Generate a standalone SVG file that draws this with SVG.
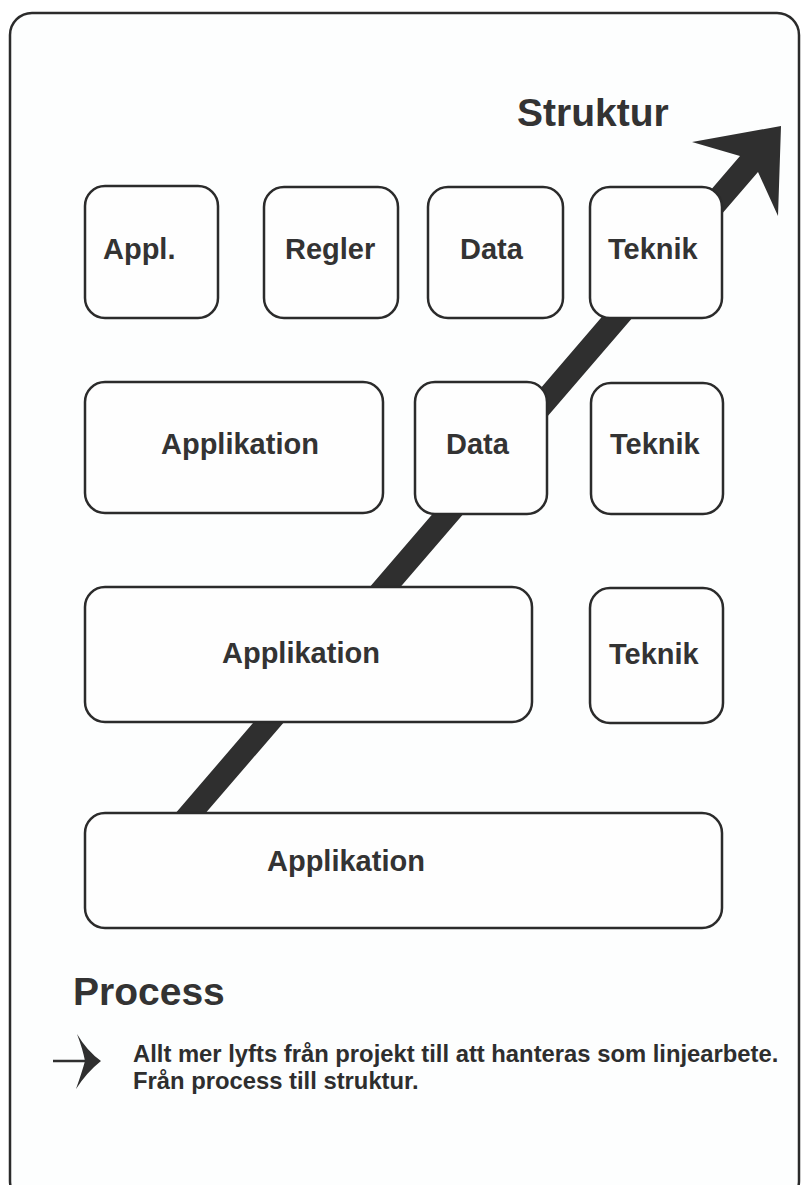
<svg xmlns="http://www.w3.org/2000/svg" width="801" height="1185" viewBox="0 0 801 1185">
<style>
.frame{fill:#fdfefe;stroke:#2b2b2b;stroke-width:2.5}
.box{fill:#fefefe;stroke:#2b2b2b;stroke-width:2.5}
.lbl{font-family:"Liberation Sans",Arial,sans-serif;font-weight:bold;font-size:29px;fill:#333}
.title{font-family:"Liberation Sans",Arial,sans-serif;font-weight:bold;font-size:39px;fill:#333}
.body{font-family:"Liberation Sans",Arial,sans-serif;font-weight:bold;font-size:23.8px;fill:#2e2e2e}
.ink{fill:#2f2f2f}
</style>
<rect width="801" height="1185" fill="#ffffff"/>
<rect class="frame" x="10" y="13" width="789" height="1190" rx="22"/>

<g id="connectors">
<polygon class="ink" points="168,822 740,156 692,142 781,126 778,216 758,172 185,837"/>
</g>

<g id="n-appl"><rect class="box" x="85" y="186" width="133" height="132" rx="20"/><text class="lbl" x="103" y="259">Appl.</text></g>
<g id="n-regler"><rect class="box" x="264" y="187" width="134" height="131" rx="20"/><text class="lbl" x="285" y="259">Regler</text></g>
<g id="n-data1"><rect class="box" x="428" y="187" width="135" height="131" rx="20"/><text class="lbl" x="460" y="259">Data</text></g>
<g id="n-teknik1"><rect class="box" x="590" y="187" width="132" height="131" rx="20"/><text class="lbl" x="608" y="259">Teknik</text></g>

<g id="n-applikation2"><rect class="box" x="85" y="382" width="298" height="131" rx="20"/><text class="lbl" x="161" y="454">Applikation</text></g>
<g id="n-data2"><rect class="box" x="415" y="382" width="132" height="132" rx="20"/><text class="lbl" x="446" y="454">Data</text></g>
<g id="n-teknik2"><rect class="box" x="591" y="383" width="132" height="131" rx="20"/><text class="lbl" x="610" y="454">Teknik</text></g>

<g id="n-applikation3"><rect class="box" x="85" y="587" width="447" height="135" rx="20"/><text class="lbl" x="222" y="663">Applikation</text></g>
<g id="n-teknik3"><rect class="box" x="590" y="588" width="133" height="135" rx="20"/><text class="lbl" x="609" y="664">Teknik</text></g>

<g id="n-applikation4"><rect class="box" x="85" y="813" width="637" height="115" rx="20"/><text class="lbl" x="267" y="871">Applikation</text></g>

<g id="t-struktur"><text class="title" x="517" y="126">Struktur</text></g>
<g id="t-process"><text class="title" x="73" y="1005">Process</text></g>

<g id="legend">
<line x1="53" y1="1061" x2="90" y2="1061" stroke="#2f2f2f" stroke-width="2.5"/>
<path class="ink" d="M77,1034 Q87,1051 101,1061 Q87,1072 76,1089 Q82,1072 85,1061 Q83,1050 77,1034 Z"/>
<text class="body" x="133" y="1062">Allt mer lyfts från projekt till att hanteras som linjearbete.</text>
<text class="body" x="133" y="1089">Från process till struktur.</text>
</g>
</svg>
